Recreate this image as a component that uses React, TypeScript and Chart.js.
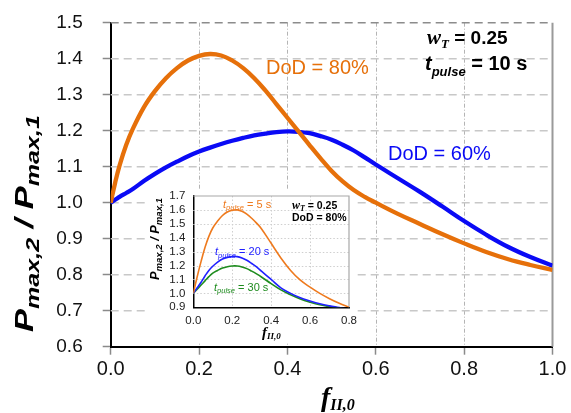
import React, { useEffect, useRef } from 'react';
import { Chart, registerables } from 'chart.js';
Chart.register(...registerables);

const SANS = '"Liberation Sans", Arial, Helvetica, sans-serif';
const SERIF = '"Liberation Serif", "Times New Roman", serif';

const ORANGE = '#E6700A';
const BLUE = '#0A0AF5';
const IN_ORANGE = '#EE7A1E';
const IN_BLUE = '#2020FF';
const IN_GREEN = '#1E8C1E';

// ---------- main chart data ----------
const mainX = [0, 0.01, 0.02, 0.035, 0.05, 0.075, 0.1, 0.125, 0.15, 0.175, 0.2, 0.225, 0.25, 0.275, 0.3, 0.325, 0.35, 0.375, 0.4, 0.425, 0.45, 0.475, 0.5, 0.525, 0.55, 0.575, 0.6, 0.65, 0.7, 0.75, 0.8, 0.85, 0.9, 0.95, 1.0];
const dod80 = [1.0, 1.055, 1.103, 1.16, 1.205, 1.265, 1.31, 1.346, 1.374, 1.395, 1.408, 1.413, 1.409, 1.395, 1.374, 1.346, 1.312, 1.274, 1.236, 1.198, 1.16, 1.123, 1.088, 1.059, 1.035, 1.016, 1.0, 0.969, 0.941, 0.913, 0.887, 0.863, 0.843, 0.827, 0.813];
const dod60 = [1.0, 1.008, 1.016, 1.027, 1.038, 1.06, 1.08, 1.098, 1.114, 1.129, 1.142, 1.153, 1.163, 1.172, 1.18, 1.187, 1.192, 1.196, 1.198, 1.197, 1.193, 1.185, 1.175, 1.161, 1.145, 1.126, 1.106, 1.068, 1.03, 0.99, 0.949, 0.911, 0.877, 0.849, 0.825];
const mainXTicks = [0, 0.2, 0.4, 0.6, 0.8, 1.0];
const mainYTicks = [0.6, 0.7, 0.8, 0.9, 1.0, 1.1, 1.2, 1.3, 1.4, 1.5];

// ---------- inset data (w_T = 0.25, DoD = 80%) ----------
const insetX = [0, 0.02, 0.04, 0.06, 0.08, 0.1, 0.125, 0.15, 0.175, 0.2, 0.225, 0.25, 0.275, 0.3, 0.325, 0.35, 0.4, 0.45, 0.5, 0.55, 0.6, 0.65, 0.7, 0.75, 0.8];
const pulse5 = [1.0, 1.12, 1.23, 1.33, 1.41, 1.47, 1.52, 1.56, 1.585, 1.597, 1.6, 1.59, 1.57, 1.54, 1.505, 1.465, 1.36, 1.255, 1.165, 1.095, 1.045, 1.0, 0.962, 0.929, 0.9];
const pulse20 = [1.0, 1.04, 1.08, 1.125, 1.165, 1.195, 1.225, 1.247, 1.259, 1.264, 1.264, 1.255, 1.238, 1.215, 1.19, 1.16, 1.1, 1.04, 1.0, 0.968, 0.945, 0.925, 0.91, 0.898, 0.885];
const pulse30 = [1.0, 1.03, 1.06, 1.09, 1.12, 1.145, 1.165, 1.182, 1.192, 1.197, 1.197, 1.19, 1.178, 1.16, 1.14, 1.118, 1.07, 1.025, 0.99, 0.96, 0.937, 0.918, 0.905, 0.895, 0.885];
const insetXTicks = [0, 0.2, 0.4, 0.6, 0.8];
const insetYTicks = [0.9, 1.0, 1.1, 1.2, 1.3, 1.4, 1.5, 1.6, 1.7];

type Seg = { t: string; f: string; dy?: number };

function rich(
  ctx: CanvasRenderingContext2D,
  segs: Seg[],
  x: number,
  y: number,
  color: string,
  opts: { align?: 'left' | 'center'; rotate?: number; length?: number } = {}
) {
  ctx.save();
  ctx.fillStyle = color;
  ctx.textAlign = 'left';
  ctx.textBaseline = 'alphabetic';
  const w = segs.map((s) => {
    ctx.font = s.f;
    return ctx.measureText(s.t).width;
  });
  const total = w.reduce((a, b) => a + b, 0);
  ctx.translate(x, y);
  if (opts.rotate) ctx.rotate(opts.rotate);
  const sx = opts.length ? opts.length / total : 1;
  ctx.scale(sx, 1);
  let cx = opts.align === 'center' ? -total / 2 : 0;
  segs.forEach((s, i) => {
    ctx.font = s.f;
    ctx.fillText(s.t, cx, s.dy || 0);
    cx += w[i];
  });
  ctx.restore();
}

const mainDecor = {
  id: 'mainDecor',
  beforeDatasetsDraw(chart: any) {
    const { ctx, chartArea: a, scales } = chart;
    ctx.save();
    // vertical grid (dash-dot)
    ctx.strokeStyle = '#b4b4b4';
    ctx.lineWidth = 1;
    ctx.setLineDash([4, 2, 1, 2]);
    mainXTicks.forEach((v) => {
      if (v === 0 || v === 1) return;
      const px = Math.round(scales.x.getPixelForValue(v)) + 0.5;
      ctx.beginPath();
      ctx.moveTo(px, a.top);
      ctx.lineTo(px, a.bottom);
      ctx.stroke();
    });
    // horizontal grid (dashed)
    ctx.strokeStyle = '#c8c8c8';
    ctx.lineWidth = 1.6;
    ctx.setLineDash([8, 5]);
    mainYTicks.forEach((v) => {
      if (v === 0.6 || v === 1.5) return;
      const py = scales.y.getPixelForValue(v);
      ctx.beginPath();
      ctx.moveTo(a.left, py);
      ctx.lineTo(a.right, py);
      ctx.stroke();
    });
    // top frame
    ctx.strokeStyle = '#8c8c8c';
    ctx.lineWidth = 1.6;
    ctx.beginPath();
    ctx.moveTo(a.left, a.top);
    ctx.lineTo(a.right, a.top);
    ctx.stroke();
    // right frame
    ctx.setLineDash([]);
    ctx.strokeStyle = '#9a9a9a';
    ctx.lineWidth = 2;
    ctx.beginPath();
    ctx.moveTo(a.right, a.top);
    ctx.lineTo(a.right, a.bottom);
    ctx.stroke();
    // white backdrop of the inset
    ctx.fillStyle = '#fff';
    ctx.fillRect(145, 189, 211, 154);
    ctx.restore();
  },
  afterDraw(chart: any) {
    const ctx = chart.ctx as CanvasRenderingContext2D;
    // y title
    rich(
      ctx,
      [
        { t: 'P', f: `bold italic 26px ${SANS}` },
        { t: 'max,2', f: `bold italic 19px ${SANS}`, dy: 6 },
        { t: ' / ', f: `bold italic 26px ${SANS}` },
        { t: 'P', f: `bold italic 26px ${SANS}` },
        { t: 'max,1', f: `bold italic 19px ${SANS}`, dy: 6 },
      ],
      33,
      223.5,
      '#000',
      { align: 'center', rotate: -Math.PI / 2, length: 217 }
    );
    // x title
    rich(
      ctx,
      [
        { t: 'f', f: `bold italic 28px ${SERIF}` },
        { t: 'II,0', f: `bold italic 16px ${SERIF}`, dy: 4 },
      ],
      321,
      406,
      '#000'
    );
    // annotations
    rich(ctx, [{ t: 'DoD = 80%', f: `20px ${SANS}` }], 266, 74, ORANGE);
    rich(ctx, [{ t: 'DoD = 60%', f: `20px ${SANS}` }], 388, 160, BLUE);
    rich(
      ctx,
      [
        { t: 'w', f: `bold italic 21px ${SERIF}` },
        { t: 'T', f: `bold italic 13px ${SERIF}`, dy: 4 },
        { t: ' = 0.25', f: `bold 19px ${SANS}` },
      ],
      427,
      44,
      '#000'
    );
    rich(
      ctx,
      [
        { t: 't', f: `bold italic 20px ${SANS}` },
        { t: 'pulse', f: `bold italic 13px ${SANS}`, dy: 6 },
        { t: ' = 10 s', f: `bold 20px ${SANS}` },
      ],
      425,
      70,
      '#000'
    );
  },
};

const insetDecor = {
  id: 'insetDecor',
  beforeDatasetsDraw(chart: any) {
    const { ctx, chartArea: a, scales } = chart;
    ctx.save();
    ctx.strokeStyle = '#cfcfcf';
    ctx.lineWidth = 1;
    ctx.setLineDash([1.5, 2]);
    insetXTicks.forEach((v) => {
      if (v === 0 || v === 0.8) return;
      const px = Math.round(scales.x.getPixelForValue(v)) + 0.5;
      ctx.beginPath();
      ctx.moveTo(px, a.top);
      ctx.lineTo(px, a.bottom);
      ctx.stroke();
    });
    insetYTicks.forEach((v) => {
      if (v === 0.9 || v === 1.7) return;
      const py = Math.round(scales.y.getPixelForValue(v)) + 0.5;
      ctx.beginPath();
      ctx.moveTo(a.left, py);
      ctx.lineTo(a.right, py);
      ctx.stroke();
    });
    ctx.setLineDash([]);
    ctx.strokeStyle = '#a8a8a8';
    ctx.lineWidth = 1.2;
    ctx.beginPath();
    ctx.moveTo(a.left, a.top);
    ctx.lineTo(a.right, a.top);
    ctx.lineTo(a.right, a.bottom);
    ctx.stroke();
    ctx.restore();
  },
  afterDraw(chart: any) {
    const ctx = chart.ctx as CanvasRenderingContext2D;
    rich(
      ctx,
      [
        { t: 'P', f: `bold italic 12px ${SANS}` },
        { t: 'max,2', f: `bold italic 9px ${SANS}`, dy: 3 },
        { t: ' / ', f: `bold italic 12px ${SANS}` },
        { t: 'P', f: `bold italic 12px ${SANS}` },
        { t: 'max,1', f: `bold italic 9px ${SANS}`, dy: 3 },
      ],
      14,
      51,
      '#000',
      { align: 'center', rotate: -Math.PI / 2, length: 82 }
    );
    rich(
      ctx,
      [
        { t: 'f', f: `bold italic 15px ${SERIF}` },
        { t: 'II,0', f: `bold italic 9px ${SERIF}`, dy: 2 },
      ],
      117,
      149,
      '#000'
    );
    const lab = (txt: string, x: number, y: number, c: string) =>
      rich(
        ctx,
        [
          { t: 't', f: `italic 11px ${SANS}` },
          { t: 'pulse', f: `italic 7.5px ${SANS}`, dy: 2.5 },
          { t: txt, f: `11px ${SANS}` },
        ],
        x,
        y,
        c
      );
    lab(' = 5 s', 78, 19.5, IN_ORANGE);
    lab(' = 20 s', 70, 67, IN_BLUE);
    lab(' = 30 s', 69, 102.5, IN_GREEN);
    rich(
      ctx,
      [
        { t: 'w', f: `bold italic 12px ${SERIF}` },
        { t: 'T', f: `bold italic 8px ${SERIF}`, dy: 2 },
        { t: ' = 0.25', f: `bold 10.5px ${SANS}` },
      ],
      147,
      21,
      '#000'
    );
    rich(ctx, [{ t: 'DoD = 80%', f: `bold 10.5px ${SANS}` }], 147, 33, '#000');
  },
};

const fixX = (h: number) => (s: any) => {
  s.height = h;
  s.paddingLeft = 0;
  s.paddingRight = 0;
  s.paddingTop = 0;
  s.paddingBottom = 0;
};
const fixY = (w: number) => (s: any) => {
  s.width = w;
  s.paddingLeft = 0;
  s.paddingRight = 0;
  s.paddingTop = 0;
  s.paddingBottom = 0;
};

export default function App() {
  const mainRef = useRef<HTMLCanvasElement>(null);
  const insetRef = useRef<HTMLCanvasElement>(null);

  useEffect(() => {
    const line = (xs: number[], ys: number[], c: string, w: number) => ({
      data: xs.map((x, i) => ({ x, y: ys[i] })),
      borderColor: c,
      borderWidth: w,
      pointRadius: 0,
      tension: 0.4,
      fill: false,
    });

    const main = new Chart(mainRef.current as HTMLCanvasElement, {
      type: 'line',
      data: {
        datasets: [line(mainX, dod80, ORANGE, 4.3), line(mainX, dod60, BLUE, 4.3)] as any,
      },
      options: {
        animation: false,
        responsive: false,
        devicePixelRatio: 1,
        events: [],
        layout: { padding: { left: 0, top: 22.7, right: 18.5, bottom: 0 }, autoPadding: false },
        plugins: { legend: { display: false }, tooltip: { enabled: false }, title: { display: false } },
        scales: {
          x: {
            type: 'linear',
            min: 0,
            max: 1,
            afterBuildTicks: (s: any) => {
              s.ticks = mainXTicks.map((v) => ({ value: v }));
            },
            ticks: {
              callback: (v: any) => Number(v).toFixed(1),
              font: { family: SANS, size: 20 },
              color: '#111',
              padding: 3,
              maxRotation: 0,
              autoSkip: false,
            },
            grid: { drawOnChartArea: false, drawTicks: true, tickLength: 8, tickColor: '#8a8a8a', tickWidth: 1.5 },
            border: { display: true, color: '#000', width: 2 },
            afterFit: fixX(66.3),
          },
          y: {
            type: 'linear',
            min: 0.6,
            max: 1.5,
            afterBuildTicks: (s: any) => {
              s.ticks = mainYTicks.map((v) => ({ value: v }));
            },
            ticks: {
              callback: (v: any) => Number(v).toFixed(1),
              font: { family: SANS, size: 19 },
              color: '#111',
              padding: 20,
              autoSkip: false,
            },
            grid: { drawOnChartArea: false, drawTicks: true, tickLength: 8, tickColor: '#8a8a8a', tickWidth: 1.5 },
            border: { display: true, color: '#000', width: 2 },
            afterFit: fixY(110.7),
          },
        },
      } as any,
      plugins: [mainDecor],
    });

    const inset = new Chart(insetRef.current as HTMLCanvasElement, {
      type: 'line',
      data: {
        datasets: [
          line(insetX, pulse5, IN_ORANGE, 1.6),
          line(insetX, pulse20, IN_BLUE, 1.6),
          line(insetX, pulse30, IN_GREEN, 1.6),
        ] as any,
      },
      options: {
        animation: false,
        responsive: false,
        devicePixelRatio: 1,
        events: [],
        layout: { padding: { left: 0, top: 8, right: 9, bottom: 0 }, autoPadding: false },
        plugins: { legend: { display: false }, tooltip: { enabled: false }, title: { display: false } },
        scales: {
          x: {
            type: 'linear',
            min: 0,
            max: 0.8,
            afterBuildTicks: (s: any) => {
              s.ticks = insetXTicks.map((v) => ({ value: v }));
            },
            ticks: {
              callback: (v: any) => Number(v).toFixed(1),
              font: { family: SANS, size: 11.5 },
              color: '#222',
              padding: 7,
              maxRotation: 0,
              autoSkip: false,
            },
            grid: { drawOnChartArea: false, drawTicks: false },
            border: { display: true, color: '#000', width: 1.5 },
            afterFit: fixX(35.7),
          },
          y: {
            type: 'linear',
            min: 0.9,
            max: 1.7,
            afterBuildTicks: (s: any) => {
              s.ticks = insetYTicks.map((v) => ({ value: v }));
            },
            ticks: {
              callback: (v: any) => Number(v).toFixed(1),
              font: { family: SANS, size: 11.5 },
              color: '#222',
              padding: 8,
              autoSkip: false,
            },
            grid: { drawOnChartArea: false, drawTicks: false },
            border: { display: true, color: '#000', width: 1.5 },
            afterFit: fixY(48.3),
          },
        },
      } as any,
      plugins: [insetDecor],
    });

    return () => {
      main.destroy();
      inset.destroy();
    };
  }, []);

  return (
    <div style={{ position: 'absolute', left: 0, top: 0, width: 571, height: 413, background: '#fff' }}>
      <canvas
        ref={mainRef}
        width={571}
        height={413}
        style={{ position: 'absolute', left: 0, top: 0, width: 571, height: 413 }}
      />
      <canvas
        ref={insetRef}
        width={213}
        height={155}
        style={{ position: 'absolute', left: 145, top: 188, width: 213, height: 155 }}
      />
    </div>
  );
}
